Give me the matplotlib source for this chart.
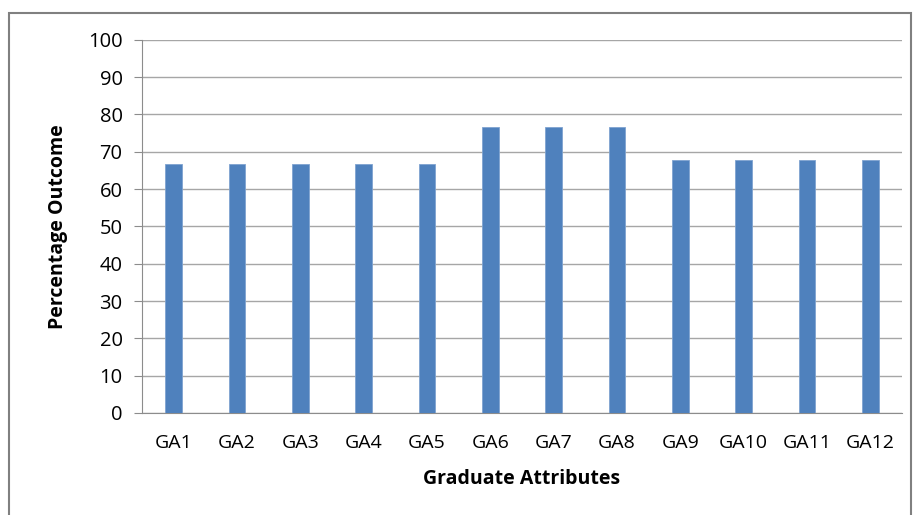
import matplotlib
matplotlib.use("Agg")
import matplotlib.pyplot as plt
from matplotlib.patches import Rectangle

categories = ["GA1", "GA2", "GA3", "GA4", "GA5", "GA6", "GA7", "GA8", "GA9", "GA10", "GA11", "GA12"]
values = [66.67, 66.67, 66.67, 66.67, 66.67, 76.5, 76.5, 76.5, 67.7, 67.7, 67.7, 67.7]
yticks = [0, 10, 20, 30, 40, 50, 60, 70, 80, 90, 100]

plt.rcParams['font.family'] = ['Open Sans', 'DejaVu Sans']

W, H = 915, 515
fig = plt.figure(figsize=(W / 100, H / 100), dpi=100)
ax = fig.add_axes([142 / W, 1 - 413 / H, (902 - 142) / W, (413 - 39.7) / H])

x = range(len(categories))
ax.bar(x, values, width=0.26, color="#4F81BD", edgecolor="#7FA3D0", linewidth=0.6, zorder=3)
ax.set_xlim(-0.5, len(categories) - 0.5)
ax.set_ylim(0, 100)
ax.set_yticks(yticks)
ax.set_xticks(list(x))
ax.set_xticklabels(categories)
ax.yaxis.grid(True, color="#A6A6A6", linewidth=1.0, zorder=0)
ax.set_axisbelow(True)
for s in ["top", "right"]:
    ax.spines[s].set_visible(False)
ax.spines["left"].set_color("#8C8C8C")
ax.spines["bottom"].set_color("#8C8C8C")
ax.tick_params(axis="y", length=6, color="#8C8C8C", labelsize=14.5, pad=8, labelcolor="#000000")
ax.tick_params(axis="x", length=0, labelsize=14, pad=15, labelcolor="#000000")
ax.set_xlabel("Graduate Attributes", fontsize=14, fontweight="bold", labelpad=12)
ax.set_ylabel("Percentage Outcome", fontsize=14, fontweight="bold", labelpad=14)

fig.patches.append(Rectangle((9 / W, -0.05), (911 - 9) / W, 1.05 - 13 / H,
                             transform=fig.transFigure, fill=False,
                             edgecolor="#808080", linewidth=1.5))

fig.savefig("out.png", dpi=100)
